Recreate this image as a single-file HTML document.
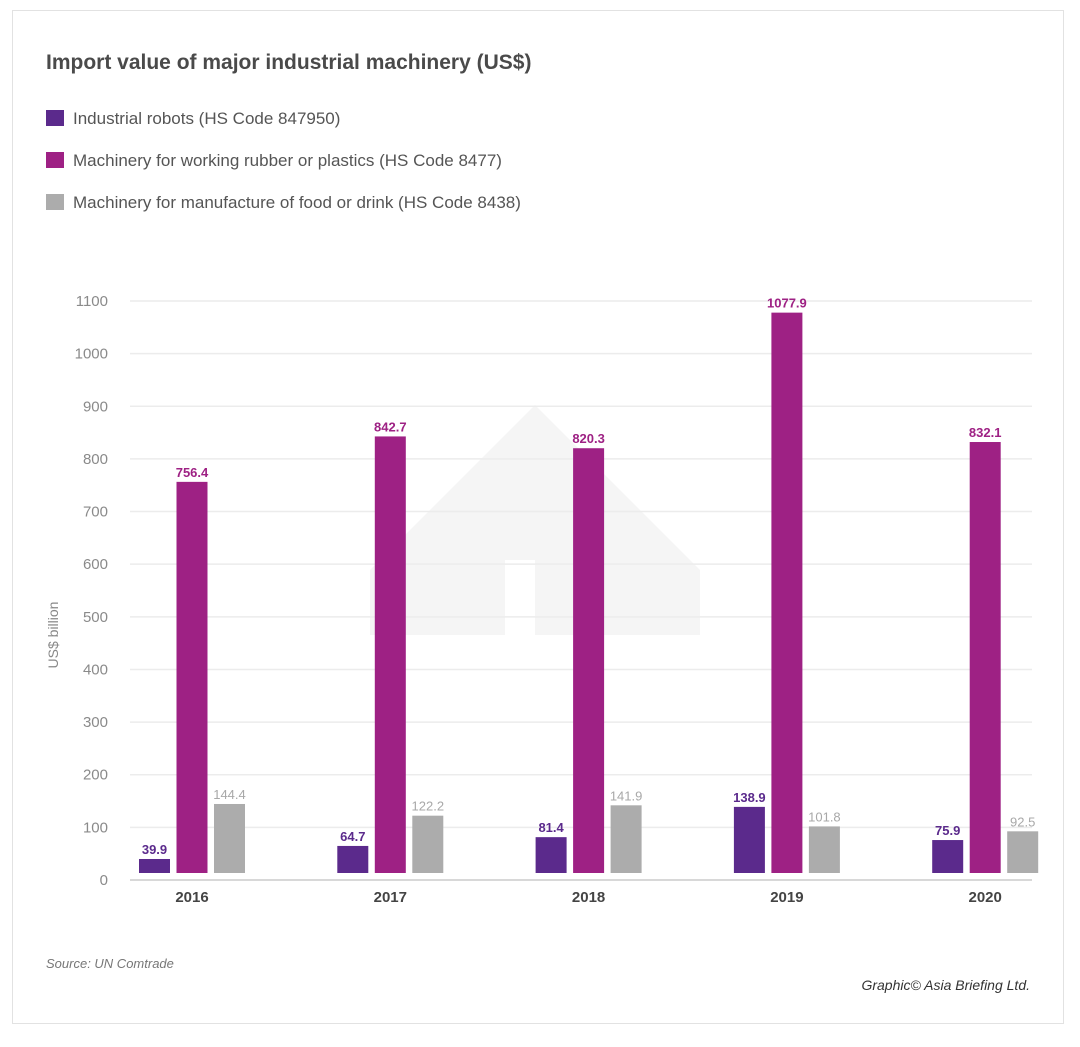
<!DOCTYPE html>
<html><head><meta charset="utf-8">
<style>
body{margin:0;background:#fff;font-family:"Liberation Sans",sans-serif;}
.frame{position:absolute;left:12px;top:10px;width:1050px;height:1012px;border:1px solid #e2e2e2;}
</style></head>
<body>
<div class="frame"></div>
<svg id="chart" width="1080" height="1047" style="position:absolute;left:0;top:0">
  <polygon points="535,405 700,570 700,635 535,635 535,560 505,560 505,635 370,635 370,570" fill="#f5f5f5"/>
  <text x="46" y="69" font-size="21" font-weight="bold" fill="#4a4a4a">Import value of major industrial machinery (US$)</text>
  <g id="legend"></g>
  <g id="grid"></g>
  <g id="bars"></g>
  <text transform="translate(58,635) rotate(-90)" text-anchor="middle" font-size="14" fill="#888">US$ billion</text>
  <text x="46" y="968" font-size="13" font-style="italic" fill="#777">Source: UN Comtrade</text>
  <text x="1030" y="990" text-anchor="end" font-size="14" font-style="italic" fill="#333">Graphic© Asia Briefing Ltd.</text>
</svg>
<script>
const categories = ["2016","2017","2018","2019","2020"];
const robots = [39.9,64.7,81.4,138.9,75.9];
const plastics = [756.4,842.7,820.3,1077.9,832.1];
const food = [144.4,122.2,141.9,101.8,92.5];
const yTicks = [0,100,200,300,400,500,600,700,800,900,1000,1100];
const seriesNames = ["Industrial robots (HS Code 847950)","Machinery for working rubber or plastics (HS Code 8477)","Machinery for manufacture of food or drink (HS Code 8438)"];
const colors = ["#5b2a8c","#9e2184","#acacac"];
const NS="http://www.w3.org/2000/svg";
function mk(tag,attrs,parent,txt){const e=document.createElementNS(NS,tag);for(const k in attrs)e.setAttribute(k,attrs[k]);if(txt!==undefined)e.textContent=txt;parent.appendChild(e);return e;}
const gridY=v=>880-v*(880-301)/1100;
const BASE=873;
const xCenter=i=>192+i*198.3;
const legend=document.getElementById('legend');
seriesNames.forEach((n,i)=>{
  const g=mk('g',{},legend);
  
  
  mk('rect',{x:46,y:110+i*42,width:18,height:16,fill:colors[i]},g);
  mk('text',{x:73,y:124+i*42,'font-size':17,fill:'#555'},g,n);
});
const grid=document.getElementById('grid');
yTicks.forEach(t=>{
  const y=gridY(t);
  const l=mk('line',{x1:130,x2:1032,y1:y,y2:y,stroke:t===0?'#d8d8d8':'#ececec','stroke-width':t===0?2:1.5},grid);
  
  
  const tx=mk('text',{x:108,y:y+5,'text-anchor':'end','font-size':15,fill:'#8a8a8a'},grid,t);
  
  
});
const bars=document.getElementById('bars');
const series=[robots,plastics,food];
categories.forEach((c,i)=>{
  const cx=xCenter(i);
  series.forEach((s,j)=>{
    const x=cx-53+j*37.5;
    const y=gridY(s[i]);
    const r=mk('rect',{x:x,y:y,width:31,height:Math.max(0,BASE-y),fill:colors[j]},bars);
    
    
    const lb=mk('text',{x:x+15.5,y:y-5,'text-anchor':'middle','font-size':13,'font-weight':j===2?'normal':'bold',fill:j===2?'#a8a8a8':colors[j]},bars,s[i]);
    
    
  });
  const xl=mk('text',{x:cx,y:902,'text-anchor':'middle','font-size':15,'font-weight':'bold',fill:'#444'},bars,c);
  
  
});
</script>
</body></html>
